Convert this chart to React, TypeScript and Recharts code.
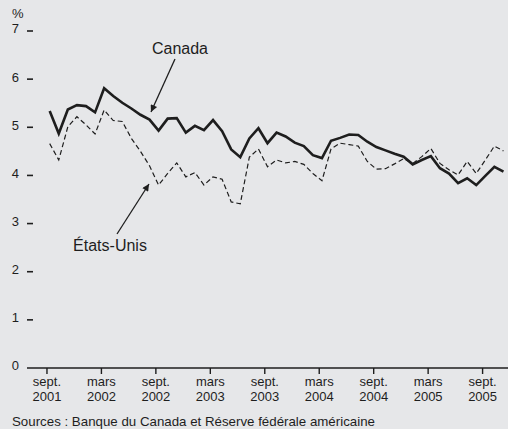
import React from 'react';
import { LineChart, Line, XAxis, YAxis } from 'recharts';

const canada = [
  5.34, 4.87, 5.37, 5.46, 5.44, 5.31, 5.81, 5.65, 5.51, 5.39,
  5.26, 5.16, 4.93, 5.18, 5.19, 4.89, 5.03, 4.94, 5.15, 4.92,
  4.54, 4.38, 4.77, 4.98, 4.67, 4.89, 4.81, 4.68, 4.61, 4.42,
  4.36, 4.72, 4.78, 4.85, 4.84, 4.70, 4.59, 4.52, 4.45, 4.39,
  4.23, 4.32, 4.40, 4.15, 4.04, 3.84, 3.94, 3.80, 3.99, 4.18,
  4.08,
];

const usa = [
  4.66, 4.32, 5.01, 5.22, 5.05, 4.86, 5.36, 5.14, 5.12, 4.77,
  4.50, 4.20, 3.80, 4.04, 4.26, 3.97, 4.06, 3.80, 3.97, 3.92,
  3.45, 3.41, 4.38, 4.55, 4.18, 4.32, 4.26, 4.29, 4.23, 4.04,
  3.89, 4.55, 4.67, 4.64, 4.61, 4.29, 4.13, 4.14, 4.24, 4.35,
  4.25, 4.39, 4.56, 4.25, 4.12, 4.01, 4.29, 4.04, 4.32, 4.61,
  4.51,
];

const tickMonths = ['sept.', 'mars', 'sept.', 'mars', 'sept.', 'mars', 'sept.', 'mars', 'sept.'];
const tickYears = ['2001', '2002', '2002', '2003', '2003', '2004', '2004', '2005', '2005'];
const yTicks = [0, 1, 2, 3, 4, 5, 6, 7];

const xTicks = tickMonths.map((_, k) => k * 6);
const data = canada.map((c, i) => ({ x: i + 0.3, canada: c, usa: usa[i] }));

const FONT = '"Liberation Sans", Arial, Helvetica, sans-serif';
const INK = '#1e1e1e';
const BG = '#e6e7e9';

const XTick = (props: any) => {
  const { x, y, payload } = props;
  const k = xTicks.indexOf(payload.value);
  return (
    <g>
      <text x={x} y={y + 10} textAnchor="middle" fontSize={13} fontFamily={FONT} fill={INK}>
        {tickMonths[k]}
      </text>
      <text x={x} y={y + 25} textAnchor="middle" fontSize={13} fontFamily={FONT} fill={INK}>
        {tickYears[k]}
      </text>
    </g>
  );
};

const YTick = (props: any) => {
  const { x, y, payload } = props;
  return (
    <g>
      <text x={x} y={y + 2.4} textAnchor="end" fontSize={13} fontFamily={FONT} fill={INK}>
        {payload.value}
      </text>
      {payload.value !== 0 && (
        <line x1={x + 8} x2={x + 14} y1={y} y2={y} stroke={INK} strokeWidth={1.6} />
      )}
    </g>
  );
};

export default function App() {
  return (
    <div
      style={{
        position: 'absolute',
        left: 0,
        top: 0,
        width: 508,
        height: 429,
        background: BG,
        overflow: 'hidden',
        fontFamily: FONT,
      }}
    >
      <LineChart
        width={508}
        height={429}
        data={data}
        margin={{ top: 31, right: 0, bottom: 0, left: 0 }}
      >
        <XAxis
          dataKey="x"
          type="number"
          domain={[-2.2, 50.8]}
          ticks={xTicks}
          interval={0}
          height={61}
          tickSize={6}
          tickMargin={2}
          tick={<XTick />}
          axisLine={{ stroke: INK, strokeWidth: 1.4 }}
          tickLine={{ stroke: INK, strokeWidth: 1.4 }}
        />
        <YAxis
          type="number"
          domain={[0, 7]}
          ticks={yTicks}
          interval={0}
          width={27}
          tickSize={8}
          tickMargin={0}
          axisLine={false}
          tickLine={false}
          tick={<YTick />}
        />
        <Line
          dataKey="usa"
          stroke={INK}
          strokeWidth={1.2}
          strokeDasharray="5 3"
          dot={false}
          activeDot={false}
          isAnimationActive={false}
        />
        <Line
          dataKey="canada"
          stroke={INK}
          strokeWidth={2.6}
          dot={false}
          activeDot={false}
          strokeLinejoin="miter"
          isAnimationActive={false}
        />
      </LineChart>
      <svg
        width={508}
        height={429}
        style={{ position: 'absolute', left: 0, top: 0, pointerEvents: 'none' }}
      >
        <defs>
          <marker id="arrow" viewBox="0 0 10 10" refX="10" refY="5" markerWidth="12" markerHeight="7" markerUnits="userSpaceOnUse" orient="auto">
            <path d="M0,0 L10,5 L0,10 z" fill={INK} />
          </marker>
        </defs>
        <text x={12} y={18} fontSize={13} fontFamily={FONT} fill={INK}>%</text>
        <text x={180} y={54} textAnchor="middle" fontSize={16} fontFamily={FONT} fill={INK}>Canada</text>
        <line x1={175} y1={59} x2={151} y2={112} stroke={INK} strokeWidth={1.3} markerEnd="url(#arrow)" />
        <text x={110} y={251} textAnchor="middle" fontSize={16} fontFamily={FONT} fill={INK}>États-Unis</text>
        <line x1={117} y1={234} x2={149} y2={184} stroke={INK} strokeWidth={1.3} markerEnd="url(#arrow)" />
        <text x={12} y={426} fontSize={13.3} fontFamily={FONT} fill={INK}>
          Sources : Banque du Canada et Réserve fédérale américaine
        </text>
      </svg>
    </div>
  );
}
